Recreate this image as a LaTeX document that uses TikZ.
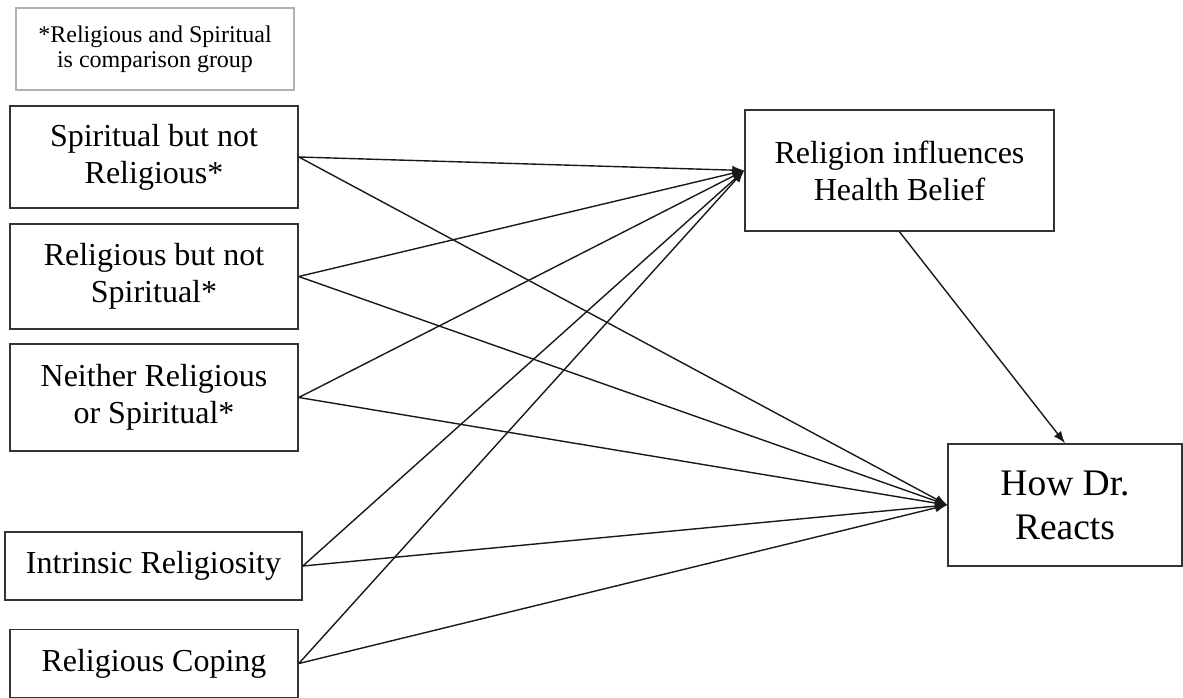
\documentclass[tikz,border=0pt]{standalone}
\usepackage{fontspec}
\setmainfont{Liberation Serif}
\usetikzlibrary{arrows.meta}

\begin{document}
\begin{tikzpicture}[x=1pt,y=-1pt,
  var/.style={draw=black!80,line width=1.6pt,align=center,inner sep=2pt,
    font=\fontsize{32}{37}\selectfont},
  note/.style={draw=black!30,line width=1.3pt,align=center,inner sep=2pt,
    font=\fontsize{24}{25}\selectfont},
  path/.style={draw=black!90,line width=1.4pt,-{Latex[length=12pt,width=9pt]}}]
\useasboundingbox (0,0) rectangle (1183,698);

% Comparison group note
\node[note,minimum width=278pt,minimum height=82pt] (cmp) at (155,49)
  {*Religious and Spiritual\\is comparison group};

% Predictors on the left
\node[var,minimum width=288pt,minimum height=102pt] (sbnr) at (154,157)
  {Spiritual but not\\Religious*};
\node[var,minimum width=288pt,minimum height=105pt] (rbns) at (154,276.5)
  {Religious but not\\Spiritual*};
\node[var,minimum width=288pt,minimum height=107pt] (nrns) at (154,397.5)
  {Neither Religious\\or Spiritual*};
\node[var,minimum width=297pt,minimum height=68pt] (intr) at (153.5,566)
  {Intrinsic Religiosity};
\node[var,minimum width=288pt,minimum height=68pt] (cope) at (154,663.5)
  {Religious Coping};

% Mediator and outcome
\node[var,minimum width=309pt,minimum height=121pt] (belief) at (899.5,170.5)
  {Religion influences\\Health Belief};
\node[var,minimum width=234pt,minimum height=122pt,
  font=\fontsize{37.5}{44}\selectfont] (react) at (1065,505)
  {How Dr.\\Reacts};

% Paths to mediator and outcome
\foreach \v in {sbnr,rbns,nrns,intr,cope} {
  \draw[path] (\v.east) -- (belief.west);
  \draw[path] (\v.east) -- (react.west);
}
\draw[path] (belief.south) -- (react.north);
\end{tikzpicture}
\end{document}
